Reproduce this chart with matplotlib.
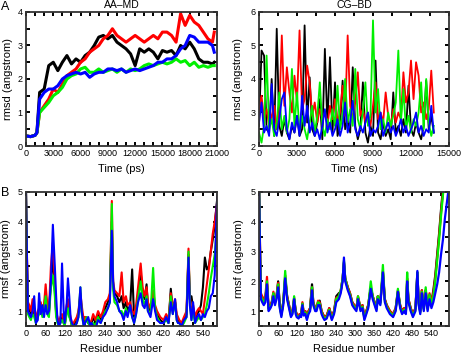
import numpy as np
import matplotlib
matplotlib.use("Agg")
import matplotlib.pyplot as plt
from matplotlib.ticker import MultipleLocator

plt.rcParams['font.family'] = ['Liberation Sans', 'DejaVu Sans']

COLORS = {"black": "#000000", "red": "#ff0000", "green": "#00f000", "blue": "#0000ff"}
ORDER = ["black", "red", "green", "blue"]

# ---- A: AA-MD rmsd vs time (ps)
T_AA = [0, 500, 1000, 1200] + list(range(1500, 20501, 500)) + [20700]
AA_BLACK = [0.3, 0.28, 0.32, 0.4,
            1.6, 1.7, 2.4, 2.5, 2.25, 2.5, 2.7, 2.45, 2.6, 2.5,
            2.7, 2.8, 3.0, 3.25, 3.3, 3.2, 3.3, 3.1, 3.0, 2.9,
            2.75, 2.4, 2.9, 2.8, 2.9, 2.8, 2.6, 2.85, 2.8, 2.85,
            2.7, 3.0, 2.9, 3.1, 2.9, 2.6, 2.5, 2.5, 2.45, 2.5]
AA_RED = [0.3, 0.28, 0.32, 0.4,
          1.0, 1.2, 1.4, 1.7, 1.6, 1.85, 2.1, 2.2, 2.3, 2.5,
          2.6, 2.8, 2.9, 3.0, 3.2, 3.3, 3.5, 3.3, 3.2, 3.1,
          3.2, 3.3, 3.2, 3.1, 3.2, 3.3, 3.2, 3.4, 3.4, 3.3,
          3.1, 3.95, 3.6, 3.9, 3.7, 3.6, 3.4, 3.2, 3.1, 3.4]
AA_GREEN = [0.3, 0.28, 0.32, 0.4,
            1.0, 1.15, 1.3, 1.5, 1.6, 1.75, 2.0, 2.1, 2.15, 2.3,
            2.35, 2.2, 2.2, 2.3, 2.2, 2.25, 2.3, 2.2, 2.3, 2.2,
            2.3, 2.25, 2.3, 2.4, 2.45, 2.4, 2.45, 2.5, 2.45, 2.5,
            2.6, 2.5, 2.55, 2.4, 2.5, 2.35, 2.4, 2.35, 2.4, 2.4]
AA_BLUE = [0.3, 0.28, 0.32, 0.4,
           1.4, 1.6, 1.7, 1.7, 1.8, 2.0, 2.1, 2.15, 2.2, 2.15,
           2.2, 2.05, 2.15, 2.2, 2.2, 2.3, 2.3, 2.25, 2.3, 2.2,
           2.25, 2.3, 2.25, 2.3, 2.35, 2.4, 2.5, 2.5, 2.6, 2.6,
           2.7, 2.9, 3.0, 3.3, 3.25, 3.1, 3.1, 3.1, 3.0, 2.8]

# ---- CG-BD rmsd vs time (ns), sampled every 200 ns
T_CG = np.arange(0, 13801, 200)
CG_BLACK = [2.6, 4.85, 4.7, 2.5, 2.4, 4.0, 2.3, 5.5, 2.6, 2.3,
            2.8, 2.4, 2.2, 2.6, 2.4, 2.9, 2.3, 2.5, 5.6, 2.7,
            4.05, 2.5, 2.3, 2.7, 3.4, 2.2, 4.9, 2.6, 4.65, 2.4,
            3.9, 2.3, 2.6, 3.95, 2.5, 2.8, 2.4, 4.35, 2.6, 2.2,
            2.5, 3.9, 2.4, 2.1, 2.6, 2.3, 4.55, 2.4, 2.2, 2.7,
            2.3, 2.5, 2.2, 3.6, 2.4, 2.6, 2.3, 2.8, 2.4, 3.8,
            2.5, 2.3, 2.7, 2.4, 2.2, 2.6, 3.95, 2.5, 2.9, 2.4]
CG_RED = [3.0, 3.5, 2.8, 3.1, 2.6, 2.9, 3.2, 2.5, 3.0, 5.3,
          3.2, 4.35, 3.6, 3.0, 4.1, 3.3, 5.45, 3.1, 3.4, 4.4,
          3.9, 2.9, 3.3, 2.7, 3.1, 2.8, 3.0, 2.6, 3.2, 2.8,
          3.4, 2.7, 3.0, 3.8, 2.9, 5.3, 3.2, 2.8, 3.3, 4.2,
          2.9, 3.1, 2.7, 3.0, 2.6, 3.2, 3.9, 2.8, 3.0, 2.7,
          3.6, 2.9, 2.6, 3.1, 2.7, 3.0, 2.8, 4.2, 3.3, 3.6,
          4.55, 3.4, 4.5, 4.1, 3.0, 3.3, 2.8, 3.1, 4.25, 3.0]
CG_GREEN = [2.4, 2.1, 2.6, 4.7, 2.5, 2.8, 2.3, 2.7, 3.6, 2.5,
            2.9, 2.4, 2.8, 4.3, 2.6, 3.6, 2.4, 2.9, 2.5, 2.2,
            2.7, 3.2, 2.4, 2.9, 3.9, 2.6, 2.3, 2.8, 2.5, 3.1,
            2.6, 3.8, 2.5, 2.9, 4.0, 2.7, 3.1, 2.6, 4.3, 2.8,
            2.5, 3.0, 3.9, 2.6, 2.9, 5.75, 3.0, 3.7, 2.5, 2.8,
            2.4, 3.0, 2.6, 2.9, 3.3, 4.85, 2.7, 3.7, 2.5, 2.9,
            2.4, 2.8, 2.6, 3.0, 3.9, 2.5, 4.0, 2.7, 2.3, 2.6]
CG_BLUE = [2.7, 3.3, 2.4, 2.6, 2.3, 3.85, 2.5, 2.3, 2.8, 3.4,
           3.6, 2.5, 2.2, 2.7, 2.4, 2.9, 2.3, 3.5, 2.6, 3.2,
           2.4, 2.7, 2.3, 2.5, 2.2, 2.6, 3.1, 2.4, 2.7, 2.3,
           2.5, 2.8, 2.3, 2.6, 3.3, 2.4, 2.7, 3.35, 2.5, 2.3,
           2.6, 2.4, 2.7, 3.0, 2.3, 2.5, 2.4, 2.6, 3.0, 2.3,
           2.5, 2.7, 2.4, 2.6, 2.3, 2.5, 2.8, 2.4, 2.6, 2.3,
           2.5, 2.7, 3.0, 2.4, 2.6, 2.3, 2.5, 2.4, 3.2, 2.4]

# ---- B: rmsf vs residue number (shared residue positions)
RES = [0, 3, 6, 10, 15, 20, 25, 30,
       36, 40, 45, 50, 55, 60, 65, 70,
       76, 82, 88, 92, 96, 100, 105, 110,
       115, 118, 124, 128, 132, 136, 140, 145,
       150, 155, 160, 166, 170, 176, 180, 185,
       190, 196, 200, 205, 212, 220, 228, 235,
       242, 250, 256, 262, 266, 270, 278, 285,
       292, 298, 305, 310, 318, 324, 330, 336,
       342, 350, 356, 362, 368, 372, 380, 388,
       394, 400, 410, 420, 428, 435, 442, 448,
       455, 460, 464, 468, 475, 482, 490, 496,
       500, 505, 510, 516, 522, 528, 534, 540,
       546, 552, 558, 564, 570, 576, 582, 596]

AAF_BLACK = [5.0, 2.7, 1.2, 1.1, 0.9, 1.2, 0.9, 0.7,
             0.9, 1.0, 1.2, 0.9, 1.1, 1.6, 1.0, 0.9,
             2.0, 2.8, 1.8, 0.9, 0.7, 0.5, 0.7, 0.8,
             0.6, 0.5, 1.0, 1.2, 0.9, 0.7, 0.5, 0.5,
             0.6, 0.7, 0.9, 1.5, 1.0, 0.6, 0.7, 0.7,
             0.6, 0.5, 0.6, 0.8, 0.6, 0.9, 0.7, 0.9,
             1.1, 1.3, 1.5, 4.0, 1.8, 1.6, 1.5, 1.3,
             1.5, 1.1, 1.3, 1.0, 1.2, 2.4, 0.8, 1.0,
             1.5, 2.3, 1.6, 1.4, 1.9, 1.2, 1.0, 1.6,
             1.1, 0.9, 0.7, 0.6, 0.8, 0.6, 1.75, 1.0,
             1.3, 0.8, 0.7, 0.6, 0.5, 0.7, 0.9, 2.9,
             1.4, 1.5, 1.1, 0.7, 0.9, 1.0, 1.2, 1.8,
             2.8, 2.4, 2.5, 3.0, 3.4, 3.9, 4.6, 6.0]
AAF_RED = [5.0, 2.8, 1.3, 1.2, 1.0, 1.4, 1.0, 0.8,
           1.0, 1.1, 1.3, 1.0, 1.2, 1.9, 1.2, 1.0,
           2.5, 3.3, 2.0, 1.0, 0.8, 0.6, 0.8, 0.9,
           0.7, 0.6, 1.2, 1.4, 1.0, 0.8, 0.6, 0.6,
           0.7, 0.8, 1.0, 1.6, 1.2, 0.7, 0.8, 0.8,
           0.7, 0.6, 0.7, 0.9, 0.7, 1.0, 0.8, 1.0,
           1.3, 1.4, 1.6, 4.7, 2.0, 1.7, 1.6, 1.5,
           2.3, 1.3, 1.5, 1.2, 1.3, 1.0, 0.9, 1.2,
           1.8, 2.6, 1.8, 1.5, 1.8, 1.3, 1.1, 1.7,
           1.2, 1.0, 0.8, 0.7, 0.9, 0.7, 1.6, 1.1,
           1.4, 0.9, 0.8, 0.7, 0.6, 0.8, 1.0, 3.1,
           1.5, 0.9, 1.2, 0.8, 1.0, 1.1, 1.0, 0.9,
           1.4, 1.9, 2.4, 3.0, 3.6, 4.0, 4.5, 6.0]
AAF_GREEN = [5.0, 2.5, 0.9, 0.8, 0.7, 0.9, 0.8, 0.6,
             0.8, 0.9, 1.1, 0.8, 1.0, 1.5, 0.9, 0.8,
             1.8, 2.2, 1.5, 0.8, 0.6, 0.5, 0.6, 0.7,
             0.6, 0.5, 0.9, 1.1, 0.8, 0.7, 0.5, 0.5,
             0.5, 0.6, 0.8, 1.8, 0.9, 0.5, 0.6, 0.8,
             0.6, 0.5, 0.5, 0.6, 0.5, 0.8, 0.6, 0.8,
             1.0, 1.1, 1.3, 4.6, 1.7, 1.3, 1.2, 1.0,
             1.0, 0.8, 1.1, 0.9, 1.1, 0.8, 0.6, 0.9,
             1.4, 2.0, 1.4, 1.2, 1.5, 1.0, 0.9, 2.45,
             1.1, 0.8, 0.6, 0.6, 0.7, 0.6, 1.5, 0.9,
             1.3, 0.7, 0.6, 0.6, 0.5, 0.6, 0.8, 3.0,
             1.3, 0.7, 1.0, 0.6, 0.7, 0.8, 0.7, 0.8,
             0.9, 1.2, 1.6, 2.1, 2.5, 2.9, 3.7, 6.0]
AAF_BLUE = [5.0, 2.8, 1.0, 0.9, 0.8, 1.0, 1.5, 0.6,
            0.7, 1.6, 0.9, 1.2, 0.8, 1.2, 0.9, 1.0,
            2.0, 3.9, 2.5, 1.5, 0.7, 0.5, 0.6, 2.6,
            1.0, 0.6, 1.2, 2.1, 1.5, 0.8, 0.6, 0.5,
            0.5, 0.6, 0.8, 1.8, 1.0, 0.5, 0.6, 0.7,
            0.8, 0.5, 0.6, 0.5, 0.4, 0.7, 0.6, 0.8,
            0.9, 1.1, 1.3, 3.7, 2.0, 1.5, 1.3, 1.0,
            0.9, 0.7, 1.0, 0.8, 1.2, 0.8, 0.6, 0.9,
            1.3, 1.6, 1.2, 1.1, 1.4, 1.0, 0.8, 1.4,
            1.0, 0.7, 0.6, 0.6, 0.8, 0.6, 1.3, 0.9,
            1.4, 0.7, 0.6, 0.6, 0.5, 0.7, 0.8, 2.8,
            1.2, 0.7, 1.3, 0.6, 0.8, 0.9, 0.7, 0.9,
            0.8, 1.0, 1.1, 1.5, 1.6, 2.2, 4.5, 6.0]

CGF_BLACK = [5.5, 3.2, 1.5, 1.4, 1.35, 1.45, 1.9, 1.1,
             1.2, 1.3, 1.6, 1.4, 1.5, 2.0, 1.2, 0.9,
             1.3, 2.1, 1.5, 1.3, 1.1, 0.9, 1.0, 1.4,
             1.0, 0.9, 0.85, 0.9, 0.9, 1.25, 0.9, 1.0,
             0.8, 1.0, 1.1, 1.9, 1.3, 1.1, 1.1, 1.3,
             1.35, 1.0, 0.9, 0.8, 0.85, 1.1, 0.8, 1.0,
             1.5, 1.6, 1.65, 2.1, 2.65, 2.1, 1.8, 1.6,
             1.3, 1.2, 1.1, 1.45, 1.1, 1.2, 0.8, 1.0,
             1.2, 1.8, 1.5, 1.3, 1.1, 1.5, 1.3, 2.3,
             1.4, 1.2, 1.0, 0.9, 1.1, 1.65, 1.2, 1.0,
             1.1, 1.0, 2.0, 1.4, 1.1, 0.9, 1.1, 2.3,
             1.3, 1.0, 1.7, 1.1, 1.7, 1.1, 1.5, 1.3,
             1.7, 2.2, 2.9, 3.6, 4.4, 5.1, 5.6, 6.0]
CGF_RED = [5.5, 3.3, 1.6, 1.5, 1.4, 1.5, 2.15, 1.1,
           1.2, 1.3, 1.65, 1.3, 1.5, 1.95, 1.2, 0.9,
           1.3, 2.2, 1.5, 1.3, 1.1, 0.9, 1.0, 1.45,
           1.0, 0.9, 0.85, 0.9, 0.9, 1.3, 0.95, 1.0,
           0.8, 1.0, 1.1, 1.8, 1.3, 1.1, 1.1, 1.35,
           1.3, 1.0, 0.9, 0.8, 0.85, 1.1, 0.8, 1.0,
           1.45, 1.5, 1.7, 2.1, 2.6, 2.1, 1.8, 1.6,
           1.3, 1.2, 1.1, 1.5, 1.1, 1.2, 0.8, 1.0,
           1.2, 1.8, 1.5, 1.3, 1.1, 1.5, 1.3, 2.35,
           1.4, 1.2, 1.0, 0.9, 1.1, 1.7, 1.2, 1.0,
           1.1, 1.0, 2.1, 1.4, 1.1, 0.9, 1.1, 2.2,
           1.3, 1.0, 1.7, 1.1, 1.7, 1.1, 1.6, 1.3,
           1.6, 2.1, 2.8, 3.5, 4.3, 5.0, 5.6, 6.0]
CGF_GREEN = [5.5, 3.1, 1.5, 1.4, 1.3, 1.4, 2.0, 1.05,
             1.15, 1.25, 1.6, 1.3, 1.5, 1.9, 1.15, 0.85,
             1.3, 2.35, 1.45, 1.25, 1.05, 0.85, 0.95, 1.5,
             0.95, 0.85, 0.8, 0.85, 0.85, 1.25, 0.9, 0.95,
             0.75, 0.95, 1.05, 1.8, 1.25, 1.05, 1.05, 1.3,
             1.25, 0.95, 0.85, 0.75, 0.8, 1.05, 0.75, 0.95,
             1.4, 1.5, 1.7, 2.1, 2.7, 2.1, 1.75, 1.55,
             1.25, 1.15, 1.05, 1.5, 1.05, 1.15, 0.75, 0.95,
             1.15, 2.0, 1.5, 1.25, 1.05, 1.5, 1.25, 2.55,
             1.35, 1.15, 0.95, 0.85, 1.05, 1.75, 1.15, 0.95,
             1.05, 0.95, 2.3, 1.35, 1.05, 0.85, 1.05, 2.3,
             1.25, 0.95, 1.65, 1.05, 1.8, 1.05, 1.55, 1.2,
             1.5, 2.0, 2.7, 3.4, 4.2, 4.9, 5.5, 6.0]
CGF_BLUE = [5.2, 3.0, 1.4, 1.3, 1.2, 1.3, 1.9, 1.0,
            1.1, 1.2, 1.5, 1.2, 1.4, 1.8, 1.1, 0.8,
            1.2, 2.1, 1.4, 1.2, 1.0, 0.8, 0.9, 1.4,
            0.9, 0.8, 0.75, 0.85, 0.8, 1.2, 0.85, 0.9,
            0.7, 0.9, 1.0, 1.7, 1.2, 1.0, 1.0, 1.2,
            1.2, 0.9, 0.8, 0.7, 0.75, 1.0, 0.7, 0.9,
            1.3, 1.4, 1.6, 2.0, 2.8, 2.0, 1.7, 1.5,
            1.2, 1.1, 1.0, 1.4, 1.0, 1.1, 0.7, 0.9,
            1.1, 1.75, 1.4, 1.2, 1.0, 1.4, 1.2, 2.3,
            1.3, 1.1, 0.9, 0.8, 1.0, 1.65, 1.1, 0.9,
            1.0, 0.9, 2.0, 1.3, 1.0, 0.8, 1.0, 2.35,
            1.2, 0.9, 1.6, 1.0, 1.6, 1.0, 1.4, 1.1,
            1.3, 1.6, 1.9, 2.3, 2.9, 3.4, 4.1, 5.3]


def style(ax, xmaj, xmin, ymin_step):
    ax.xaxis.set_major_locator(MultipleLocator(xmaj))
    ax.xaxis.set_minor_locator(MultipleLocator(xmin))
    ax.yaxis.set_major_locator(MultipleLocator(1))
    ax.yaxis.set_minor_locator(MultipleLocator(ymin_step))
    ax.tick_params(which="both", direction="in", top=True, right=True,
                   length=3, width=1.4, labelsize=6.5, pad=2.5)
    for s in ax.spines.values():
        s.set_linewidth(1.3)
        s.set_color("#333333")


def draw(ax, x, series, lw):
    for name, y in zip(ORDER, series):
        ax.plot(x, y, color=COLORS[name], lw=lw)


W, H = 462, 354
fig = plt.figure(figsize=(W / 100, H / 100), dpi=100)


def axes_px(l, t, r, b):
    return fig.add_axes([l / W, 1 - b / H, (r - l) / W, (b - t) / H])


ax1 = axes_px(26, 12, 217, 146)
draw(ax1, T_AA, [AA_BLACK, AA_RED, AA_GREEN, AA_BLUE], 2.2)
ax1.set_xlim(0, 21000); ax1.set_ylim(0, 4)
style(ax1, 3000, 1000, 0.5)
ax1.set_title("AA\u2013MD", fontsize=7.5, pad=3)
ax1.set_xlabel("Time (ps)", fontsize=8, labelpad=4)
ax1.set_ylabel("rmsd (angstrom)", fontsize=8, labelpad=3)

ax2 = axes_px(259, 12, 449, 146)
draw(ax2, T_CG, [CG_BLACK, CG_RED, CG_GREEN, CG_BLUE], 1.3)
ax2.set_xlim(0, 15000); ax2.set_ylim(2, 6)
style(ax2, 3000, 1500, 0.5)
ax2.set_title("CG\u2013BD", fontsize=7.5, pad=3)
ax2.set_xlabel("Time (ns)", fontsize=8, labelpad=4)
ax2.set_ylabel("rmsd (angstrom)", fontsize=8, labelpad=5)

ax3 = axes_px(26, 192, 217, 326)
draw(ax3, RES, [AAF_BLACK, AAF_RED, AAF_GREEN, AAF_BLUE], 1.5)
ax3.set_xlim(0, 583); ax3.set_ylim(0.5, 5)
style(ax3, 60, 30, 0.5)
ax3.set_xlabel("Residue number", fontsize=8, labelpad=4)
ax3.set_ylabel("rmsf (angstrom)", fontsize=8, labelpad=5)

ax4 = axes_px(259, 192, 449, 326)
draw(ax4, RES, [CGF_BLACK, CGF_RED, CGF_GREEN, CGF_BLUE], 1.6)
ax4.set_xlim(0, 595); ax4.set_ylim(0.5, 5)
style(ax4, 60, 30, 0.5)
ax4.set_xlabel("Residue number", fontsize=8, labelpad=4)
ax4.set_ylabel("rmsf (angstrom)", fontsize=8, labelpad=5)

fig.text(5 / W, 1 - 7 / H, "A", fontsize=9, ha="center", va="center")
fig.text(5 / W, 1 - 193 / H, "B", fontsize=9, ha="center", va="center")

fig.savefig("out.png", dpi=100)
